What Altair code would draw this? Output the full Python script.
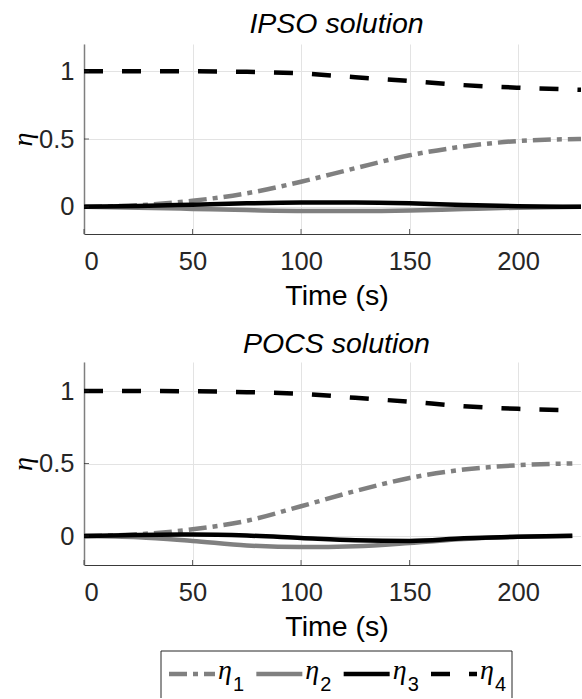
import altair as alt
import pandas as pd

# ---------------- data ----------------
series = ["η1", "η2", "η3", "η4"]
subs = ["1", "2", "3", "4"]
colors = ["#808080", "#808080", "#000000", "#000000"]
dashes = [[18, 6, 5, 6], [], [], [19, 19]]

t_ipso = [0, 25, 50, 75, 100, 125, 150, 175, 200, 229]
ipso_eta1 = [0.0, 0.012, 0.045, 0.10, 0.185, 0.285, 0.38, 0.445, 0.485, 0.50]
ipso_eta2 = [0.0, -0.006, -0.015, -0.024, -0.030, -0.031, -0.027, -0.016, -0.006, 0.0]
ipso_eta3 = [0.0, 0.006, 0.016, 0.026, 0.032, 0.033, 0.027, 0.014, 0.004, 0.0]
ipso_eta4 = [1.0, 1.0, 0.999, 0.995, 0.983, 0.955, 0.928, 0.897, 0.878, 0.863]

t_pocs = [0, 25, 50, 75, 100, 125, 150, 175, 200, 225]
pocs_eta1 = [0.0, 0.012, 0.046, 0.105, 0.205, 0.31, 0.40, 0.458, 0.488, 0.50]
pocs_eta2 = [0.0, -0.008, -0.034, -0.065, -0.076, -0.070, -0.048, -0.020, -0.005, 0.0]
pocs_eta3 = [0.0, 0.007, 0.010, 0.003, -0.014, -0.030, -0.034, -0.016, -0.005, 0.002]
pocs_eta4 = [1.0, 1.0, 0.998, 0.992, 0.981, 0.953, 0.926, 0.895, 0.877, 0.868]

x_ticks = [0, 50, 100, 150, 200]
y_ticks = [0, 0.5, 1]
x_domain = [0, 229]
y_domain = [-0.2, 1.2]

W = 497


def make_df(t, cols):
    rows = []
    for name, vals in zip(series, cols):
        for ti, v in zip(t, vals):
            rows.append({"t": ti, "v": v, "s": name})
    return pd.DataFrame(rows)


def data_layer(t, cols, h):
    df = make_df(t, cols)
    xs = alt.Scale(domain=x_domain, nice=False, zero=False)
    ys = alt.Scale(domain=y_domain, nice=False, zero=False)
    xenc = alt.X("t:Q", scale=xs, axis=alt.Axis(values=x_ticks, title="Time (s)"))
    yenc = alt.Y("v:Q", scale=ys,
                 axis=alt.Axis(values=y_ticks, title="η", titleY=h / 2, format="~g"))
    layers = []
    for name, col, d in zip(series, colors, dashes):
        kw = dict(stroke=col, strokeWidth=4.5, interpolate="monotone", clip=True)
        if d:
            kw["strokeDash"] = d
        layers.append(
            alt.Chart(df).transform_filter(alt.datum.s == name)
            .mark_line(**kw).encode(x=xenc, y=yenc)
        )
    xt = alt.Chart(pd.DataFrame({"t": x_ticks})).mark_tick(
        orient="vertical", size=5, thickness=1, color="#262626"
    ).encode(x=xenc, y=alt.value(h - 2.5))
    yt = alt.Chart(pd.DataFrame({"v": y_ticks})).mark_tick(
        orient="horizontal", size=5, thickness=1, color="#262626"
    ).encode(y=yenc, x=alt.value(2.5))
    return alt.layer(*layers, xt, yt)


def legend_layer():
    leg = pd.DataFrame({"s": series, "sub": subs, "i": list(range(4)), "eta": ["η"] * 4})
    one = pd.DataFrame({"k": [0]})
    lx = alt.X("i:Q", scale=alt.Scale(domain=[0, 3], range=[131, 393]), axis=None)
    top = 289
    bot = 336
    box = [
        alt.Chart(one).mark_rule(color="#262626", strokeWidth=1).encode(
            x=alt.value(77), x2=alt.value(428), y=alt.value(top)),
        alt.Chart(one).mark_rule(color="#262626", strokeWidth=1).encode(
            x=alt.value(77), y=alt.value(top), y2=alt.value(bot)),
        alt.Chart(one).mark_rule(color="#262626", strokeWidth=1).encode(
            x=alt.value(428), y=alt.value(top), y2=alt.value(bot)),
    ]
    items = []
    for name, col, d in zip(series, colors, dashes):
        kw = dict(stroke=col, strokeWidth=4.5, xOffset=-46, x2Offset=0)
        if d:
            kw["strokeDash"] = d
        items.append(
            alt.Chart(leg).transform_filter(alt.datum.s == name)
            .mark_rule(**kw).encode(x=lx, x2=alt.X2("i:Q"), y=alt.value(312))
        )
    eta = alt.Chart(leg).mark_text(
        font="Liberation Serif", fontStyle="italic", fontSize=28, align="left",
        baseline="alphabetic", dx=3, color="#000"
    ).encode(x=lx, y=alt.value(317), text="eta:N")
    sub = alt.Chart(leg).mark_text(
        font="Liberation Sans", fontSize=20, align="left",
        baseline="alphabetic", dx=18, color="#000"
    ).encode(x=lx, y=alt.value(329), text="sub:N")
    return alt.layer(*box, *items, eta, sub)


def title(txt, off):
    return alt.TitleParams(
        txt, font="Liberation Sans", fontSize=28.5, fontStyle="italic",
        fontWeight="normal", color="#000", offset=off, baseline="alphabetic",
        anchor="middle", dx=4,
    )


h1 = 190
h2 = 203

p1 = data_layer(t_ipso, [ipso_eta1, ipso_eta2, ipso_eta3, ipso_eta4], h1).properties(
    width=W, height=h1, title=title("IPSO solution", -17))

p2 = alt.layer(
    data_layer(t_pocs, [pocs_eta1, pocs_eta2, pocs_eta3, pocs_eta4], h2),
    legend_layer(),
).resolve_scale(x="independent").properties(
    width=W, height=h2, title=title("POCS solution", -19.5))

chart = alt.vconcat(p1, p2, spacing=128, bounds="flush").properties(
    padding={"left": 9, "top": 9, "right": 0, "bottom": 0}
).configure_view(stroke=None).configure_axis(
    labelFont="Liberation Sans", labelFontSize=25.5, labelColor="#262626",
    titleFont="Liberation Sans", titleFontSize=28.5, titleFontWeight="normal",
    titleColor="#000", gridColor="#e3e3e3", gridWidth=1, ticks=False, tickSize=0,
).configure_axisX(
    labelBaseline="alphabetic", labelPadding=35, titleBaseline="alphabetic",
    titleY=70, titleX=252.5, titleAlign="center", domainColor="#3a3a3a", domainWidth=1,
).configure_axisY(
    labelPadding=10, titleFont="Liberation Serif", titleFontStyle="italic",
    titleFontSize=28, titleX=-61, titleBaseline="middle", titleAlign="center",
    titleAngle=270, domainColor="#7f7f7f", domainWidth=1.5,
)

chart.save("out.html", embed_options={"renderer": "svg", "actions": False})
